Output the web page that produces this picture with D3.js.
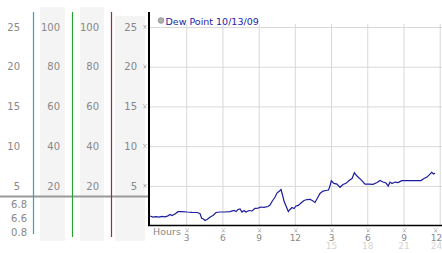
<!DOCTYPE html>
<html>
<head>
<meta charset="utf-8">
<script src="https://cdn.jsdelivr.net/npm/d3@7/dist/d3.min.js"></script>
<style>
body { margin: 0; background: #fff; }
svg { display: block; font-family: "DejaVu Sans", Verdana, sans-serif; }
</style>
</head>
<body>
<svg id="chart" width="442" height="253"></svg>
<script>
// dew point readings, hours since midnight
var hours = [0, 0.25, 0.5, 0.75, 1, 1.24, 1.49, 1.66, 1.82, 2.07, 2.32, 2.65, 3.07, 3.48, 3.89, 4.14,
    4.28, 4.43, 4.56, 4.72, 4.89, 5.05, 5.22, 5.47, 5.8, 6.21, 6.63, 6.96, 7.13, 7.29, 7.46, 7.62,
    7.79, 7.95, 8.2, 8.45, 8.7, 8.95, 9.2, 9.44, 9.78, 9.94, 10.11, 10.36, 10.52, 10.73, 10.85, 10.98,
    11.1, 11.27, 11.46, 11.6, 11.76, 11.93, 12.1, 12.29, 12.51, 12.76, 13.01, 13.26, 13.5, 13.67,
    13.92, 14.08, 14.33, 14.58, 14.79, 14.91, 15.02, 15.24, 15.49, 15.74, 15.99, 16.24, 16.49, 16.74,
    16.93, 17.11, 17.32, 17.56, 17.81, 18.14, 18.48, 18.81, 19.06, 19.3, 19.55, 19.74, 19.88, 20.05,
    20.3, 20.55, 20.85, 21.21, 21.71, 22.2, 22.45, 22.7, 22.95, 23.11, 23.34, 23.49, 23.61];
var dewPoint = [1.21, 1.08, 1.14, 1.08, 1.17, 1.11, 1.23, 1.4, 1.27, 1.46, 1.75, 1.77, 1.71, 1.67, 1.65, 1.52,
    0.92, 0.83, 0.64, 0.77, 0.96, 1.14, 1.27, 1.65, 1.71, 1.71, 1.77, 1.9, 1.77, 2.03, 2.09, 1.71,
    1.9, 1.71, 1.9, 1.84, 2.18, 2.21, 2.34, 2.3, 2.4, 2.59, 3.03, 3.6, 4.1, 4.35, 4.54, 3.85,
    3.09, 2.47, 1.77, 2.03, 2.28, 2.15, 2.47, 2.55, 2.84, 3.16, 3.28, 3.31, 3.09, 2.91,
    3.6, 4.04, 4.35, 4.42, 4.48, 4.98, 5.65, 5.32, 5.23, 4.82, 5.17, 5.32, 5.67, 5.92,
    6.65, 6.3, 5.99, 5.67, 5.23, 5.23, 5.19, 5.42, 5.67, 5.48, 5.36, 4.98, 5.48, 5.3,
    5.48, 5.42, 5.65, 5.65, 5.65, 5.65, 5.67, 5.92, 6.11, 6.36, 6.7, 6.49, 6.58];

var tempTicks = [5, 10, 15, 20, 25];
var pctTicks = [20, 40, 60, 80, 100];
var readouts = ["6.8", "6.6", "0.8"];
var hourTicks = [3, 6, 9, 12, 15, 18, 21, 24];
var hourLabels = ["3", "6", "9", "12", "3", "6", "9", "12"];
var hourLabels2 = ["", "", "", "", "15", "18", "21", "24"];
var legendLabel = "Dew Point 10/13/09";

var svg = d3.select("#chart");

var x = d3.scaleLinear().domain([0, 24]).range([150, 439.7]);
var y = d3.scaleLinear().domain([0, 25]).range([225.6, 27]);
var yPct = d3.scaleLinear().domain([0, 100]).range([225.6, 27]);

// grey bands behind the side scales
var bands = [[40, 25, 7], [80, 24, 7], [115, 30, 16]];
svg.selectAll(".band")
    .data(bands)
  .enter().append("rect")
    .attr("x", function(d) { return d[0]; })
    .attr("y", function(d) { return d[2]; })
    .attr("width", function(d) { return d[1]; })
    .attr("height", function(d) { return 241 - d[2]; })
    .attr("fill", "#f4f4f4");

// grid
svg.append("g")
    .attr("transform", "translate(0,225)")
    .call(d3.axisBottom(x).tickValues(hourTicks).tickSize(-201).tickFormat(""))
    .call(function(g) {
        g.select(".domain").remove();
        g.selectAll(".tick line").attr("stroke", "#d8d8d8");
    });

svg.append("g")
    .attr("transform", "translate(149,0)")
    .call(d3.axisRight(y).tickValues(tempTicks).tickSize(293).tickFormat(""))
    .call(function(g) {
        g.select(".domain").remove();
        g.selectAll(".tick line").attr("stroke", "#d8d8d8");
    });

// side scales
function sideScale(scale, ticks, xpos) {
    svg.append("g")
        .attr("transform", "translate(" + xpos + ",0)")
        .call(d3.axisLeft(scale).tickValues(ticks).tickSize(0).tickPadding(0))
        .call(function(g) {
            g.select(".domain").remove();
            g.selectAll("text")
                .attr("fill", "#888")
                .attr("font-size", 10)
                .attr("font-family", "DejaVu Sans, Verdana, sans-serif");
        });
}
sideScale(y, tempTicks, 20);
sideScale(yPct, pctTicks, 60);
sideScale(yPct, pctTicks, 99);
sideScale(y, tempTicks, 137);

svg.selectAll(".readout")
    .data(readouts)
  .enter().append("text")
    .attr("x", 27)
    .attr("y", function(d, i) { return 204 + i * 14; })
    .attr("dy", "0.35em")
    .attr("text-anchor", "end")
    .attr("font-size", 10)
    .attr("fill", "#888")
    .text(function(d) { return d; });

// separator under the scales
svg.append("line")
    .attr("x1", 0).attr("x2", 149)
    .attr("y1", 196.5).attr("y2", 196.5)
    .attr("stroke", "#999")
    .attr("stroke-width", 2);

// coloured scale lines
var scaleLines = [[33.5, "#22a4cc", 234], [72.5, "#2e9e2e", 237], [111.5, "#b02626", 237]];
svg.selectAll(".scaleline")
    .data(scaleLines)
  .enter().append("line")
    .attr("x1", function(d) { return d[0]; })
    .attr("x2", function(d) { return d[0]; })
    .attr("y1", 12)
    .attr("y2", function(d) { return d[2]; })
    .attr("stroke", function(d) { return d[1]; })
    .attr("stroke-width", 1.2);

// little tick markers
function marker(g) {
    g.append("path")
        .attr("d", "M-1.5,-2L1.5,2M1.5,-2L-1.5,2")
        .attr("stroke", "#999")
        .attr("stroke-width", 1)
        .attr("stroke-dasharray", "1,0.6");
}
svg.selectAll(".ymark")
    .data(tempTicks)
  .enter().append("g")
    .attr("transform", function(d) { return "translate(145," + y(d) + ")"; })
    .call(marker);
svg.selectAll(".xmark")
    .data(hourTicks)
  .enter().append("g")
    .attr("transform", function(d, i) {
        var dx = i === hourTicks.length - 1 ? -4 : 1;
        return "translate(" + (x(d) + dx) + ",230.5)";
    })
    .call(marker);

// x labels, clock hour with the running hour beneath
var xAxis = svg.append("g")
    .attr("transform", "translate(0,234.5)")
    .call(d3.axisBottom(x).tickValues(hourTicks).tickSize(0).tickPadding(0)
        .tickFormat(function(d, i) { return hourLabels[i]; }));
xAxis.select(".domain").remove();
xAxis.selectAll("text")
    .attr("fill", "#888")
    .attr("font-size", 9)
    .attr("font-family", "DejaVu Sans, Verdana, sans-serif")
    .each(function(d, i) {
        if (!hourLabels2[i]) return;
        d3.select(this).append("tspan")
            .attr("x", d === 24 ? 2 : 0)
            .attr("dy", "0.9em")
            .attr("fill", "#d4d4d4")
            .text(hourLabels2[i]);
    });
xAxis.selectAll("text").filter(function(d) { return d === 24; })
    .attr("text-anchor", "end")
    .attr("x", 2);

svg.append("text")
    .attr("x", 153)
    .attr("y", 235)
    .attr("font-size", 9.5)
    .attr("fill", "#888")
    .text("Hours");

// the dew point line
var line = d3.line()
    .x(function(d) { return x(d); })
    .y(function(d, i) { return y(dewPoint[i]); });

svg.append("path")
    .datum(hours)
    .attr("d", line)
    .attr("fill", "none")
    .attr("stroke", "#1c1c9c")
    .attr("stroke-width", 1.2);

// axes
svg.append("line")
    .attr("x1", 149).attr("x2", 149)
    .attr("y1", 12).attr("y2", 226)
    .attr("stroke", "#000")
    .attr("stroke-width", 2);
svg.append("line")
    .attr("x1", 148).attr("x2", 442)
    .attr("y1", 225.5).attr("y2", 225.5)
    .attr("stroke", "#000")
    .attr("stroke-width", 1.5);

// legend
svg.append("circle")
    .attr("cx", 161)
    .attr("cy", 20.5)
    .attr("r", 2.8)
    .attr("fill", "#b0b0b0")
    .attr("stroke", "#888")
    .attr("stroke-width", 0.8);
svg.append("text")
    .attr("x", 165.5)
    .attr("y", 24.5)
    .attr("font-size", 9.5)
    .attr("fill", "#2424a8")
    .text(legendLabel);
</script>
</body>
</html>
